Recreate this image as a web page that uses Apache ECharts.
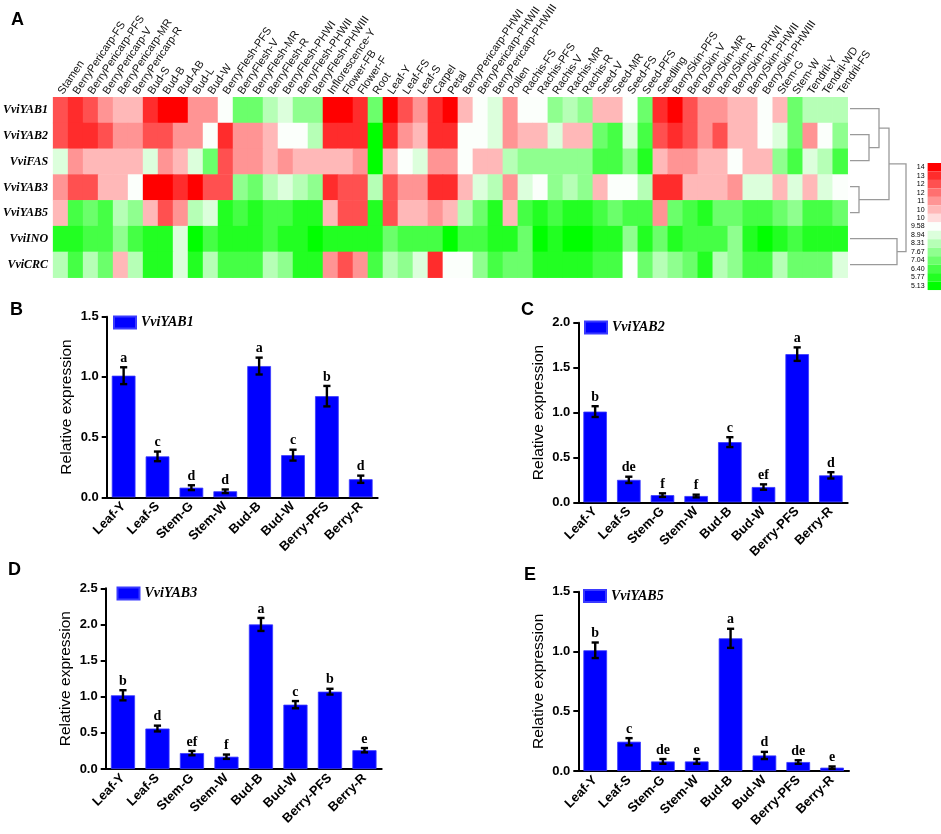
<!DOCTYPE html>
<html>
<head>
<meta charset="utf-8">
<script src="https://cdn.jsdelivr.net/npm/echarts@6/dist/echarts.min.js"></script>
<style>html,body{margin:0;padding:0;background:#fff;}#c{width:941px;height:834px;}</style>
</head>
<body>
<div id="c"></div>
<script>
// ---------- Heatmap (panel A) ----------
const tissues = ['Stamen','BerryPericarp-FS','BerryPericarp-PFS','BerryPericarp-V','BerryPericarp-MR','BerryPericarp-R','Bud-S','Bud-B','Bud-AB','Bud-L','Bud-W','BerryFlesh-PFS','BerryFlesh-V','BerryFlesh-MR','BerryFlesh-R','BerryFlesh-PHWI','BerryFlesh-PHWII','BerryFlesh-PHWIII','Inflorescence-Y','Flower-FB','Flower-F','Root','Leaf-Y','Leaf-FS','Leaf-S','Carpel','Petal','BerryPericarp-PHWI','BerryPericarp-PHWII','BerryPericarp-PHWIII','Pollen','Rachis-FS','Rachis-PFS','Rachis-V','Rachis-MR','Rachis-R','Seed-V','Seed-MR','Seed-FS','Seed-PFS','Seedling','BerrySkin-PFS','BerrySkin-V','BerrySkin-MR','BerrySkin-R','BerrySkin-PHWI','BerrySkin-PHWII','BerrySkin-PHWIII','Stem-G','Stem-W','Tendril-Y','Tendril-WD','Tendril-FS'];
const genes = ['VviYAB1','VviYAB2','VviFAS','VviYAB3','VviYAB5','VviINO','VviCRC'];

const exprYAB1 = [12.73,13.37,12.73,11.47,10.84,10.84,13.37,14.00,14.00,11.47,11.47,9.58,7.04,7.04,8.31,8.94,7.67,7.67,14.00,14.00,13.37,7.04,14.00,12.73,11.47,13.37,14.00,10.84,9.58,8.94,11.47,9.58,9.58,7.67,8.31,7.67,10.84,10.84,9.58,7.04,13.37,14.00,12.73,11.47,11.47,10.84,10.84,9.58,10.84,7.04,8.31,8.31,8.31];
const exprYAB2 = [12.73,13.37,13.37,12.73,11.47,11.47,12.73,12.73,11.47,11.47,9.58,13.37,11.47,11.47,10.84,9.58,9.58,8.31,13.37,13.37,13.37,5.13,13.37,11.47,10.84,13.37,13.37,9.58,9.58,8.94,11.47,10.84,10.84,8.94,10.84,10.84,7.04,6.40,8.94,6.40,12.73,13.37,12.73,11.47,12.73,10.84,10.84,9.58,8.94,7.04,11.47,9.58,7.67];
const exprFAS  = [8.94,11.47,10.84,10.84,10.84,10.84,8.94,11.47,10.84,8.94,7.04,12.73,11.47,11.47,10.84,11.47,10.84,10.84,10.84,10.84,11.47,5.13,10.84,9.58,8.94,11.47,11.47,9.58,10.84,10.84,8.31,7.67,7.67,7.67,7.67,7.67,6.40,6.40,7.67,5.77,10.84,11.47,11.47,10.84,10.84,9.58,10.84,10.84,7.67,6.40,8.94,8.31,6.40];
const exprYAB3 = [11.47,12.73,12.73,10.84,10.84,9.58,14.00,14.00,13.37,14.00,12.73,12.73,7.67,7.04,8.31,8.94,8.31,7.67,13.37,12.73,12.73,8.31,12.73,11.47,11.47,13.37,13.37,10.84,8.94,8.31,11.47,8.94,9.58,7.67,8.31,7.67,10.84,9.58,9.58,8.31,13.37,13.37,10.84,10.84,10.84,11.47,8.94,8.94,10.84,8.94,10.84,8.94,9.58];
const exprYAB5 = [10.84,6.40,7.04,6.40,8.31,7.67,10.84,12.73,11.47,8.31,8.94,5.77,6.40,5.77,6.40,6.40,5.77,5.77,10.84,12.73,12.73,5.77,12.73,10.84,10.84,11.47,10.84,8.31,7.04,5.77,10.84,6.40,5.77,6.40,5.77,5.77,6.40,7.04,6.40,6.40,11.47,7.04,6.40,5.77,7.04,7.04,6.40,6.40,7.04,7.67,6.40,6.40,7.04];
const exprINO  = [5.77,5.77,6.40,6.40,7.67,6.40,5.77,5.77,8.94,5.13,6.40,5.77,5.77,5.77,6.40,5.77,5.77,5.13,5.77,5.77,5.77,5.77,7.04,6.40,6.40,6.40,5.13,6.40,6.40,5.77,5.77,7.04,5.13,5.77,5.13,5.13,5.77,5.77,7.67,5.77,7.04,5.77,6.40,6.40,6.40,7.67,5.77,5.13,5.77,6.40,5.77,5.77,5.77];
const exprCRC  = [8.31,6.40,8.31,7.04,10.84,8.31,5.77,5.77,8.94,5.77,8.31,6.40,6.40,6.40,8.31,7.67,5.77,5.77,11.47,12.73,11.47,6.40,8.31,7.67,8.94,13.37,9.58,9.58,7.67,6.40,7.04,7.04,5.77,5.77,5.77,5.77,6.40,6.40,9.58,7.04,8.31,7.67,7.04,5.77,8.31,7.67,6.40,6.40,8.31,7.04,7.04,7.04,8.94];
const exprRows = [exprYAB1, exprYAB2, exprFAS, exprYAB3, exprYAB5, exprINO, exprCRC];

// colour scale levels (bottom -> top) and their legend labels
const scaleLevels = [5.13,5.77,6.40,7.04,7.67,8.31,8.94,9.58,10.21,10.84,11.47,12.10,12.73,13.37,14.00];
const scaleLabels = ['5.13','5.77','6.40','7.04','7.67','8.31','8.94','9.58','10','10','11','12','12','13','14'];
const scaleColors = ['#00ff00','#22ff22','#45ff45','#6bff6b','#8fff8f','#b6ffb6','#dcffdc','#fbfffb','#ffdcdc','#ffb8b8','#ff9494','#ff7070','#ff5050','#ff2c2c','#ff0000'];

// dendrogram joins (height = distance units)
const dendroJoins = [
  {id:'n1', left:'VviYAB3', right:'VviYAB5', height:9},
  {id:'n2', left:'VviYAB2', right:'VviFAS', height:19},
  {id:'n3', left:'VviYAB1', right:'n2', height:29},
  {id:'n4', left:'n3', right:'n1', height:39},
  {id:'n5', left:'VviINO', right:'VviCRC', height:47},
  {id:'n6', left:'n4', right:'n5', height:56}
];

// ---------- qRT-PCR bars (panels B-E) ----------
const barCats = ['Leaf-Y','Leaf-S','Stem-G','Stem-W','Bud-B','Bud-W','Berry-PFS','Berry-R'];
const yab1Mean = [1.01,0.34,0.08,0.05,1.09,0.35,0.84,0.15];
const yab1Err  = [0.07,0.04,0.02,0.015,0.07,0.045,0.085,0.03];
const yab1Sig  = ['a','c','d','d','a','c','b','d'];
const yab2Mean = [1.01,0.25,0.08,0.07,0.67,0.17,1.65,0.30];
const yab2Err  = [0.06,0.035,0.02,0.015,0.055,0.03,0.075,0.035];
const yab2Sig  = ['b','de','f','f','c','ef','a','d'];
const yab3Mean = [1.02,0.56,0.22,0.17,2.00,0.89,1.07,0.26];
const yab3Err  = [0.07,0.04,0.03,0.03,0.09,0.05,0.04,0.03];
const yab3Sig  = ['b','d','ef','f','a','c','b','e'];
const yab5Mean = [1.01,0.245,0.08,0.08,1.11,0.13,0.075,0.028];
const yab5Err  = [0.065,0.03,0.02,0.02,0.08,0.03,0.015,0.01];
const yab5Sig  = ['b','c','de','e','a','d','de','e'];
const yMaxes = [1.5, 2.0, 2.5, 1.5];

// ---------- build option ----------
const SANS = '"Liberation Sans", Arial, sans-serif';
const SERIF = '"Liberation Serif", "Times New Roman", serif';

const heatData = [];
exprRows.forEach((row, r) => row.forEach((v, c) => heatData.push([c, r, v])));

const pieces = scaleLevels.map((v, i) => {
  const lo = i === 0 ? 0 : (scaleLevels[i-1] + v) / 2;
  const hi = i === scaleLevels.length - 1 ? 100 : (scaleLevels[i+1] + v) / 2;
  return {gte: lo, lt: hi, label: scaleLabels[i], color: scaleColors[i]};
});

const joinById = {};
dendroJoins.forEach(j => joinById[j.id] = j);
function nodeH(id) { return joinById[id] ? joinById[id].height : 0; }
function nodeY(id, api) {
  const gi = genes.indexOf(id);
  if (gi >= 0) return api.coord([0, gi])[1];
  const j = joinById[id];
  return (nodeY(j.left, api) + nodeY(j.right, api)) / 2;
}

const panels = [
  {name:'VviYAB1', mean:yab1Mean, err:yab1Err, sig:yab1Sig, grid:{left:106.7, top:316.7, width:271, height:180.6}, legend:{left:113, top:315.5}, title:{left:5, top:296, text:'B'}},
  {name:'VviYAB2', mean:yab2Mean, err:yab2Err, sig:yab2Sig, grid:{left:578.3, top:322.7, width:269.4, height:179.6}, legend:{left:584, top:320.5}, title:{left:516, top:296, text:'C'}},
  {name:'VviYAB3', mean:yab3Mean, err:yab3Err, sig:yab3Sig, grid:{left:105.7, top:588.3, width:276, height:180.7}, legend:{left:116.5, top:586.5}, title:{left:3, top:556, text:'D'}},
  {name:'VviYAB5', mean:yab5Mean, err:yab5Err, sig:yab5Sig, grid:{left:578.3, top:591.7, width:270.7, height:179.3}, legend:{left:583, top:589}, title:{left:519, top:561, text:'E'}}
];

const option = {
  animation: false,
  backgroundColor: '#fff',
  title: [{left:6, top:6, text:'A', textStyle:{fontFamily:SANS, fontWeight:'bold', fontSize:18, color:'#000'}}]
    .concat(panels.map(p => ({left:p.title.left, top:p.title.top, text:p.title.text, textStyle:{fontFamily:SANS, fontWeight:'bold', fontSize:18, color:'#000'}}))),
  grid: [
    {left:51.7, top:95.7, width:796, height:182},
    {left:850, top:95.7, width:56, height:182}
  ].concat(panels.map(p => p.grid)),
  xAxis: [
    {gridIndex:0, type:'category', data:tissues, position:'top',
     axisLine:{show:false}, axisTick:{show:false}, splitLine:{show:false},
     axisLabel:{interval:0, rotate:-56, margin:4, fontFamily:SANS, fontSize:11, color:'#111'}},
    {gridIndex:1, type:'value', min:0, max:56, show:false}
  ].concat(panels.map((p, i) => ({
    gridIndex:i+2, type:'category', data:barCats,
    axisLine:{lineStyle:{color:'#000', width:2}},
    axisTick:{alignWithLabel:true, length:5, lineStyle:{color:'#000', width:2}},
    axisLabel:{interval:0, rotate:45, margin:7, fontFamily:SANS, fontWeight:'bold', fontSize:13, color:'#000'},
    splitLine:{show:false}
  }))),
  yAxis: [
    {gridIndex:0, type:'category', data:genes, inverse:true,
     axisLine:{show:false}, axisTick:{show:false}, splitLine:{show:false},
     axisLabel:{margin:5, fontFamily:SERIF, fontStyle:'italic', fontWeight:'bold', fontSize:12, color:'#000'}},
    {gridIndex:1, type:'category', data:genes, inverse:true, show:false}
  ].concat(panels.map((p, i) => ({
    gridIndex:i+2, type:'value', min:0, max:yMaxes[i], interval:0.5,
    name:'Relative expression', nameLocation:'middle', nameGap:32,
    nameTextStyle:{fontFamily:SANS, fontSize:15.5, color:'#000'},
    axisLine:{show:true, lineStyle:{color:'#000', width:2}},
    axisTick:{show:true, length:5, lineStyle:{color:'#000', width:2}},
    axisLabel:{margin:8, fontFamily:SANS, fontWeight:'bold', fontSize:13, color:'#000', formatter: v => v.toFixed(1)},
    splitLine:{show:false}
  }))),
  legend: panels.map(p => ({
    data:[p.name], left:p.legend.left, top:p.legend.top, padding:0, icon:'rect',
    itemWidth:22, itemHeight:12, selectedMode:false,
    textStyle:{fontFamily:SERIF, fontStyle:'italic', fontWeight:'bold', fontSize:14, color:'#000'}
  })),
  visualMap: {
    type:'piecewise', seriesIndex:0, orient:'vertical', left:911, top:163,
    pieces: pieces, itemWidth:16, itemHeight:8.47, itemGap:0, itemSymbol:'rect',
    textGap:3, hoverLink:false, selectedMode:false, padding:0,
    textStyle:{fontFamily:SANS, fontSize:7, color:'#000'}
  },
  series: [
    {type:'heatmap', xAxisIndex:0, yAxisIndex:0, data:heatData, emphasis:{disabled:true}, itemStyle:{borderWidth:0}},
    {type:'custom', xAxisIndex:1, yAxisIndex:1, clip:false, silent:true,
     data: dendroJoins.map(j => [j.height, 0]),
     renderItem: function (params, api) {
       const j = dendroJoins[params.dataIndex];
       const yl = nodeY(j.left, api), yr = nodeY(j.right, api);
       const xl = api.coord([nodeH(j.left), 0])[0];
       const xr = api.coord([nodeH(j.right), 0])[0];
       const xj = api.coord([j.height, 0])[0];
       return {type:'polyline', shape:{points:[[xl, yl], [xj, yl], [xj, yr], [xr, yr]]},
               style:{stroke:'#9a9a9a', lineWidth:1.3, fill:null}};
     }}
  ].concat(...panels.map((p, i) => [
    {name:p.name, type:'bar', xAxisIndex:i+2, yAxisIndex:i+2, data:p.mean, barWidth:'70%',
     itemStyle:{color:'#0000ff', borderColor:'#3a3aff', borderWidth:0.8}, emphasis:{disabled:true}},
    {type:'custom', xAxisIndex:i+2, yAxisIndex:i+2, silent:true, clip:false, z:5,
     data: p.mean.map((m, k) => [k, m, p.err[k]]),
     renderItem: function (params, api) {
       const x = api.value(0), m = api.value(1), e = api.value(2);
       const t = api.coord([x, m + e]), b = api.coord([x, Math.max(0, m - e)]);
       const cw = 3.6, st = {stroke:'#000', lineWidth:2.4};
       return {type:'group', children:[
         {type:'line', shape:{x1:t[0], y1:t[1], x2:b[0], y2:b[1]}, style:st},
         {type:'line', shape:{x1:t[0]-cw, y1:t[1], x2:t[0]+cw, y2:t[1]}, style:st},
         {type:'line', shape:{x1:b[0]-cw, y1:b[1], x2:b[0]+cw, y2:b[1]}, style:st},
         {type:'text', style:{text:p.sig[params.dataIndex], x:t[0], y:t[1]-2, align:'center', verticalAlign:'bottom',
           fontFamily:SERIF, fontWeight:'bold', fontSize:14, fill:'#000'}}
       ]};
     }}
  ]))
};

const chart = echarts.init(document.getElementById('c'), null, {renderer:'canvas'});
chart.setOption(option);
</script>
</body>
</html>
